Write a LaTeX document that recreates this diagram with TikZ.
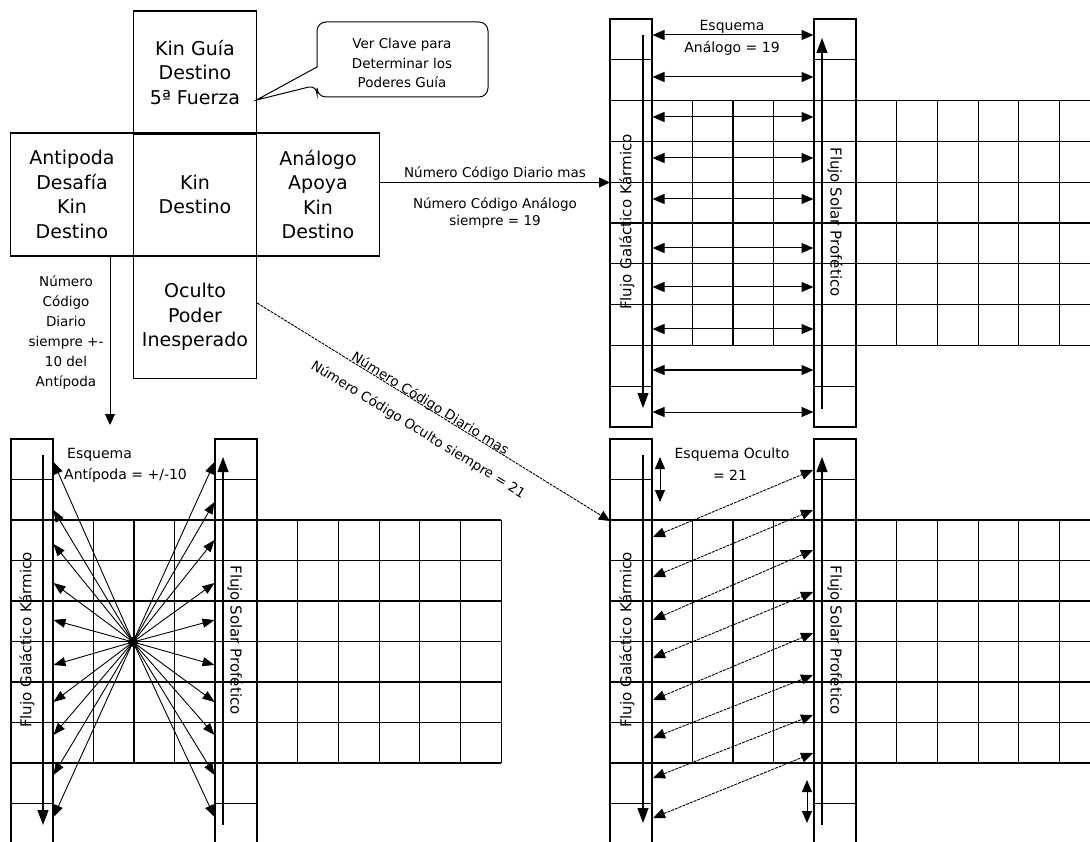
\documentclass[tikz,border=0pt]{standalone}
\usepackage{fontspec}
\setmainfont{DejaVu Sans}
\usetikzlibrary{arrows.meta,calc}
\newcommand{\GridBlock}[4]{%
  \begin{scope}[gridline]
  \draw (#1,#2) rectangle ++(42,10*#3);
  \draw (#1+204,#2) rectangle ++(42,10*#3);
  \foreach \i in {1,...,9} {
    \draw (#1,#2+\i*#3) -- ++(42,0);
    \draw (#1+204,#2+\i*#3) -- ++(42,0);
  }
  \foreach \i in {2,...,8} \draw (#1+42,#2+\i*#3) -- (#4,#2+\i*#3);
  \foreach \j in {1,2,3} \draw (#1+42+\j*40.5,#2+2*#3) -- ++(0,6*#3);
  \foreach \k in {1,...,6} \draw (#1+246+\k*40.7,#2+2*#3) -- ++(0,6*#3);
  \end{scope}}
\begin{document}
\begin{tikzpicture}[x=1pt,y=-1pt,
  box/.style={draw,line width=1.2pt,minimum width=123pt,minimum height=123pt,inner sep=0pt,align=center,font=\fontsize{19}{24.5}\selectfont},
  lbl/.style={font=\fontsize{13.5}{20}\selectfont,align=center,inner sep=0pt},
  hdr/.style={font=\fontsize{14}{20.5}\selectfont,inner sep=0pt},
  vlabel/.style={font=\fontsize{15}{16}\selectfont,inner sep=0pt},
  gridline/.style={line width=1.1pt},
  conn/.style={line width=1pt,-{Triangle[width=10pt,length=11pt]}},
  flow/.style={line width=1.1pt,-{Triangle[width=11pt,length=15pt]}},
  dbl/.style={line width=1pt,{Triangle[width=10pt,length=12pt]}-{Triangle[width=10pt,length=12pt]}},
  ray/.style={line width=0.9pt,-{Triangle[width=9pt,length=12pt]}},
  diag/.style={line width=0.9pt,dash pattern=on 3pt off 1pt,{Triangle[width=10pt,length=12pt]}-{Triangle[width=10pt,length=12pt]}},
]
\useasboundingbox (0,0) rectangle (1090,842);
\clip (0,0) rectangle (1090,842);

% ---------- central cross ----------
\node[box] (guia) at (195,72.5) {Kin Guía\\Destino\\5ª Fuerza};
\node[box] (anti) at (72,194.5) {Antipoda\\Desafía\\Kin\\Destino};
\node[box] (kin) at (195,194.5) {Kin\\Destino};
\node[box] (analogo) at (318,194.5) {Análogo\\Apoya\\Kin\\Destino};
\node[box] (oculto) at (195,317) {Oculto\\Poder\\Inesperado};

% callout
\coordinate (tipG) at (256.5,100);
\draw[line width=1pt,rounded corners=9pt] (317,67) -- (317,22) -- (488,22) -- (488,97) -- (317,97) -- (317,85) [sharp corners] -- (tipG) -- cycle;
\node[lbl,font=\fontsize{13.5}{19.5}\selectfont] (callout) at (402,63) {Ver Clave para\\Determinar los\\Poderes Guía};

% ---------- grids ----------
\GridBlock{610}{19}{40.8}{1095}
\GridBlock{11}{439}{40.5}{501.2}
\GridBlock{610}{439}{40.5}{1095}

% ---------- connectors from cross ----------
\coordinate (aT) at (110,425);
\draw[conn] (anti.south -| aT) -- (aT);
\node[lbl] (lAnti) at (66,333) {Número\\Código\\Diario\\siempre +-\\10 del\\Antípoda};

\coordinate (bT) at (610,182.5);
\draw[conn] (analogo.east |- bT) -- (bT);
\node[lbl] (lB1) at (495,174) {Número Código Diario mas};
\node[lbl,font=\fontsize{13.5}{17}\selectfont] (lB2) at (495,213.5) {Número Código Análogo\\siempre = 19};

\coordinate (c0) at (0,303);
\coordinate (cT) at (610,521);
\draw[conn,line width=0.9pt,dash pattern=on 3pt off 1pt] (oculto.east |- c0) -- (cT);
\node[lbl,rotate=-31.7] (lC1) at (430,404) {Número Código Diario mas};
\node[lbl,rotate=-31.7] (lC2) at (418,430) {Número Código Oculto siempre = 21};

% ---------- top-right: Analogo scheme ----------
\draw[flow] (643,35) -- (643,408);
\draw[flow] (822,409) -- (822,38);
\node[vlabel,rotate=90] (fg1) at (627,222) {Flujo Galáctico Kármico};
\node[vlabel,rotate=-90] (fs1) at (835,222) {Flujo Solar Profético};
\foreach \y in {35,77,117,158,199,248,287,329,370,412}
  \draw[dbl] (652.5,\y) -- (813.5,\y);
\node[hdr] (hA1) at (732,27) {Esquema};
\node[hdr] (hA2) at (732,48) {Análogo = 19};

% ---------- bottom-left: Antipoda scheme ----------
\draw[flow] (43,455) -- (43,825);
\draw[flow] (223,825) -- (223,457);
\node[vlabel,rotate=90] (fg2) at (27,640) {Flujo Galáctico Kármico};
\node[vlabel,rotate=-90] (fs2) at (235,640) {Flujo Solar Profético};
\coordinate (star) at (133,642);
\fill (star) circle (5pt);
\foreach \y in {462,510,544,583,620,665,702,735,775,817}
  \draw[ray] (star) -- (53.5,\y);
\foreach \y in {462,502,540,583,620,665,702,735,775,817}
  \draw[ray] (star) -- (214.5,\y);
\node[hdr,anchor=west] (hB1) at (67,455) {Esquema};
\node[hdr,anchor=west] (hB2) at (64,475) {Antípoda = +/-10};

% ---------- bottom-right: Oculto scheme ----------
\draw[flow] (643,455) -- (643,823);
\draw[flow] (822,825) -- (822,457);
\node[vlabel,rotate=90] (fg3) at (627,640) {Flujo Galáctico Kármico};
\node[vlabel,rotate=-90] (fs3) at (835,640) {Flujo Solar Profético};
\foreach \yl/\yr in {537/470,577/510,620/550,658/592,700/633,738/675,778/715,818/753}
  \draw[diag] (653,\yl) -- (813,\yr);
\draw[dbl] (660,457) -- (660,502);
\draw[dbl] (807,780) -- (807,823);
\node[hdr] (hC1) at (732,455) {Esquema Oculto};
\node[hdr] (hC2) at (730,475) {= 21};
\end{tikzpicture}
\end{document}
